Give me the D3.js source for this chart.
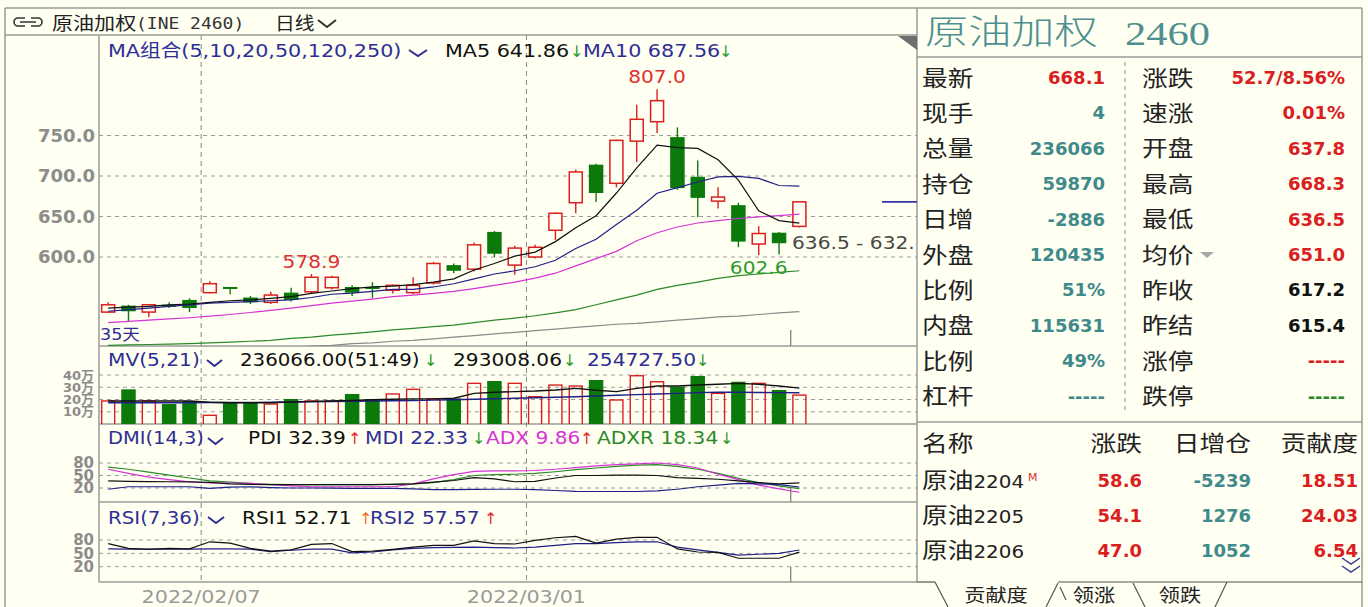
<!DOCTYPE html>
<html><head><meta charset="utf-8">
<script src="https://cdn.jsdelivr.net/npm/d3@7"></script>
<style>html,body{margin:0;padding:0;background:#fffff2;} svg{display:block;}</style>
</head><body><svg id="c" width="1368" height="607"></svg>
<script>
// ---------------- DATA ----------------
const dates = ['2022-01-24','2022-01-25','2022-01-26','2022-01-27','2022-01-28','2022-02-07','2022-02-08','2022-02-09','2022-02-10','2022-02-11','2022-02-14','2022-02-15','2022-02-16','2022-02-17','2022-02-18','2022-02-21','2022-02-22','2022-02-23','2022-02-24','2022-02-25','2022-02-28','2022-03-01','2022-03-02','2022-03-03','2022-03-04','2022-03-07','2022-03-08','2022-03-09','2022-03-10','2022-03-11','2022-03-14','2022-03-15','2022-03-16','2022-03-17','2022-03-18'];
const open  = [532,540,532,541,547,556,563,550,544,556,557,562,563,563,559,556,568,590,585,631,590,600,633,667,714,691,743,767,748,699,669,664,616,630,637.8];
const high  = [544,541,542,544,549,570,563,552,557,562,578.9,577,565,569,566,575,594,592,618,632,614,615,655,708,715,745,788,807,760,719,686,667,638,631,668.3];
const low   = [531,521,526,537,532,555,554,542,542,545,555,560,552,549,555,554,566,580,582,600,578,598,621,654,668,686,717,753,683,649,660,612,602.6,603,636.5];
const close = [541,533,541,540,537,567,561,544,553,547,575,575,556,561,565,565,592,583,615,604,611,612,654,705,679,744,770,793,685,673,674,619,629,617,668.1];
const ma5   = [537,538,539,541,542,544,546,547,549,551,555,558,561,563,564,566,569,573,584,592,601,606,619,636,651,679,710,738,735,734,720,695,657,645,641.86];
const ma10  = [533,535,537,539,541,543,544,545,546,547,550,554,555.5,557.6,560,560,563,567,573,579,583,588,596,610.6,622,640,657.7,678.7,685.7,692.6,698.9,699.6,697.1,688.3,687.56];
const ma20  = [519,520.5,522,523.5,525,527,529,531.5,534,537,540,543,545.5,548,551,553,555,557.5,561,565,569,574,580,589,598,607,620,630,637,642,645,647.5,649.5,651,653];
const ma50  = [491,491.5,492,492.5,493,494,495,496,497,499.5,501,503.5,505.5,507.5,510,512,514,516,519,522,524.5,527.5,531,535,541,547,553,560,565,569,573.5,577,579,581,583];
const ma120 = [472,474,476,478,480,481,483,485,487,488,490,491,493,494,496,497,499,501,503,505,507,509,511,513,515,517,518,520,522,524,526,527,529,531,532.5];
const volume = [188000,283000,188000,163000,188000,71000,174000,174000,163000,204000,188000,188000,245000,204000,245000,283000,204000,210000,332000,351000,332000,223000,318000,310000,359000,196000,394000,345000,305000,392000,250000,345000,332000,278000,236066];
const mv5   = [188000,188000,188000,188000,188000,178000,174000,174000,174000,180000,185000,188000,192000,198000,202000,205000,205000,210000,250000,259000,264000,269000,278000,291000,275000,264000,291000,310000,310000,318000,324000,332000,324000,310000,293008];
const mv21  = [174000,174000,174000,174000,174000,176000,176000,176000,178000,180000,182000,184000,186000,188000,190000,192000,195000,198000,202000,206000,210000,214000,218000,222000,228000,235000,240000,245000,250000,256000,259000,259000,257000,256000,254727.5];
const pdi   = [37,36,35.5,35,34.5,33.5,30,28.5,28,28,28,28,28,28,28.5,30,34,38,45,42,35,36,44,50,50,51,51,50,45,43,41,37,33,30,32.39];
const mdi   = [17,23,23,23,23,19,22,23,21,20,20,19.5,19,19,19,18,16,16,16.5,17,17,16,14,12,11.6,11.6,11.6,13,17,23,27,31,30,28,22.33];
const adx   = [65,55,46,40,35,32,32,31,28,25,23,23,23,23,23,30,42,52,60,61,61,62,65,69,73,76,78,80,76,68,53,40,27,18,9.86];
const adxr  = [70,65,58,51,44,37,34,31,29,28,28,28,28,28,29,30,33,40,50,52,53,55,59,64,68,72,75,76,72,65,55,43,33,25,18.34];
const rsi1  = [72,61,59,61,60,76,73,61,55,58,70,72,54,55,59,64,68,68,78,72,71,79,85,88,73,82,86,86,60,53,52,39,39,39,52.71];
const rsi2  = [60,59.5,59.5,59.5,59.5,60,60,59.5,54,57,59.5,59.5,51,53,58,61,63,63.5,64,63,62,64,68,72,72,74,76,76,64,58,52,46,48,50,57.57];
const priceTicks = [600,650,700,750];
const volTicks = [100000,200000,300000,400000];
const oscTicks = [20,50,80];
const dateTicks = ['2022-02-07','2022-03-01'];
const leftLabels  = ['最新','现手','总量','持仓','日增','外盘','比例','内盘','比例','杠杆'];
const leftValues  = ['668.1','4','236066','59870','-2886','120435','51%','115631','49%','-----'];
const rightLabels = ['涨跌','速涨','开盘','最高','最低','均价','昨收','昨结','涨停','跌停'];
const rightValues = ['52.7/8.56%','0.01%','637.8','668.3','636.5','651.0','617.2','615.4','-----','-----'];
const tblHead = ['名称','涨跌','日增仓','贡献度'];
const tblName = ['原油2204','原油2205','原油2206'];
const tblChg  = ['58.6','54.1','47.0'];
const tblOi   = ['-5239','1276','1052'];
const tblCon  = ['18.51','24.03','6.54'];

// ---------------- SETUP ----------------
const svg = d3.select('#c');
const BG = '#fffff2', BORDER = '#9a9a9a', GRID = '#9c9c9c';
const RED = '#d9201f', GREEN = '#0b7a0b', NAVY = '#2e2e96', TEAL = '#3f8a8a';
const FF = "'DejaVu Sans','Noto Sans CJK SC',sans-serif";
const CJK = "'Noto Sans CJK SC','DejaVu Sans',sans-serif";
svg.append('rect').attr('width',1368).attr('height',607).attr('fill',BG);

function T(p, x, y, s, o = {}) {
  return p.append('text')
    .attr('transform', `translate(${x},${y}) scale(${o.sx ?? 1},1)`)
    .attr('font-family', o.ff || FF).attr('font-size', o.fs || 18)
    .attr('font-weight', o.fw || 'normal').attr('fill', o.fill || '#111')
    .attr('text-anchor', o.anchor || 'start').text(s);
}
function L(p, x1, y1, x2, y2, col, w, dash) {
  const l = p.append('line').attr('x1',x1).attr('y1',y1).attr('x2',x2).attr('y2',y2)
    .attr('stroke', col).attr('stroke-width', w || 1);
  if (dash) l.attr('stroke-dasharray', dash);
  return l;
}
function V(p, x, y, w) { // chevron
  p.append('path').attr('d', `M${x},${y} L${x + w/2},${y + 6} L${x + w},${y}`)
    .attr('fill','none').attr('stroke', NAVY).attr('stroke-width', 2);
}

const PL = 99, PR = 917;
const panels = {C:[35,346], V:[346,424], D:[424,502], R:[502,582]};
const defs = svg.append('defs');
Object.entries(panels).forEach(([k,[a,b]]) => {
  defs.append('clipPath').attr('id','clip'+k).append('rect')
    .attr('x',PL).attr('y',a).attr('width',PR-PL).attr('height',b-a);
});

const xS = d3.scaleBand().domain(dates).range([98, 98 + 35*20.33]);
const bw = xS.bandwidth();
const cx = d => xS(d) + bw/2;
const bodyW = 14.5;
const yP = d3.scaleLinear().domain([600,750]).range([257,135.5]);
const yV = d3.scaleLinear().domain([0,400000]).range([424,375]);
const yD = d3.scaleLinear().domain([20,80]).range([488,463]);
const yR = d3.scaleLinear().domain([20,80]).range([566.7,540]);

// ---------------- FRAME ----------------
const frame = svg.append('g');
L(frame, 5, 8, 1362, 8, BORDER, 1.5);
L(frame, 5, 8, 5, 607, BORDER, 1.5);
L(frame, 5, 35, PR, 35, BORDER, 1.5);
L(frame, PL, 35, PL, 582, BORDER, 1.5);
L(frame, PR, 8, PR, 582, BORDER, 1.5);
L(frame, 1362, 8, 1362, 607, BORDER, 1.5);
[346,424,502,582].forEach(y => L(frame, PL, y, PR, y, BORDER, 1.5));

// grid lines
const grid = svg.append('g');
priceTicks.forEach(v => L(grid, PL, yP(v), PR, yP(v), GRID, 1, '4,4'));
volTicks.forEach(v => L(grid, PL, yV(v), PR, yV(v), GRID, 1, '4,4'));
oscTicks.forEach(v => L(grid, PL, yD(v), PR, yD(v), GRID, 1, '4,4'));
oscTicks.forEach(v => L(grid, PL, yR(v), PR, yR(v), GRID, 1, '4,4'));
dateTicks.forEach(d => L(grid, xS(d)+1.5, 35, xS(d)+1.5, 582, '#888', 1, '5,4'));

// axes
function styleAxis(g, fs) {
  g.select('.domain').remove();
  g.selectAll('.tick line').remove();
  g.attr('font-family', FF).attr('font-size', fs).attr('font-weight','bold').attr('color','#8c8c8c');
}
svg.append('g').attr('transform','translate(95,0)')
  .call(d3.axisLeft(yP).tickValues(priceTicks).tickFormat(d3.format('.1f')).tickSize(0).tickPadding(0))
  .call(g => styleAxis(g, 18));
svg.append('g').attr('transform','translate(94,0)')
  .call(d3.axisLeft(yV).tickValues(volTicks).tickFormat(v => (v/10000) + '万').tickSize(0).tickPadding(0))
  .call(g => styleAxis(g, 13));
svg.append('g').attr('transform','translate(94,0)')
  .call(d3.axisLeft(yD).tickValues(oscTicks).tickSize(0).tickPadding(0))
  .call(g => styleAxis(g, 15));
svg.append('g').attr('transform','translate(94,0)')
  .call(d3.axisLeft(yR).tickValues(oscTicks).tickSize(0).tickPadding(0))
  .call(g => styleAxis(g, 15));
const xAx = svg.append('g').attr('transform',`translate(${1.5 - bw/2},582)`)
  .call(d3.axisBottom(xS).tickValues(dateTicks).tickFormat(d => d.replace(/-/g,'/')).tickSize(0).tickPadding(0));
xAx.select('.domain').remove();
xAx.attr('font-family', FF).attr('font-size', 18).attr('color','#9a9a9a');
xAx.selectAll('.tick text').attr('dy', null).attr('y', 21.5).attr('transform','scale(1.15,1)');

// ---------------- CANDLES ----------------
const gC = svg.append('g').attr('clip-path','url(#clipC)');
dates.forEach((d,i) => {
  const up = close[i] >= open[i], x = cx(d);
  const yt = yP(Math.max(open[i],close[i])), yb = yP(Math.min(open[i],close[i]));
  const col = up ? RED : GREEN;
  if (up) {
    L(gC, x, yP(high[i]), x, yt, col, 1.4);
    L(gC, x, yb, x, yP(low[i]), col, 1.4);
    gC.append('rect').attr('x', x-bodyW/2+0.75).attr('y', yt).attr('width', bodyW-1.5)
      .attr('height', Math.max(yb-yt, 1)).attr('fill', BG).attr('stroke', col).attr('stroke-width', 1.5);
  } else {
    L(gC, x, yP(high[i]), x, yP(low[i]), col, 1.4);
    gC.append('rect').attr('x', x-bodyW/2).attr('y', yt).attr('width', bodyW)
      .attr('height', Math.max(yb-yt, 2)).attr('fill', col);
  }
});
const mkLine = ys => d3.line().x((v,i) => cx(dates[i])).y(v => ys(v));
[[ma120,'#8a8a8a'],[ma50,'#2a8a2a'],[ma20,'#d633d6'],[ma10,'#1f1f86'],[ma5,'#111']].forEach(([a,c]) =>
  gC.append('path').attr('d', mkLine(yP)(a)).attr('fill','none').attr('stroke', c).attr('stroke-width', 1.2));
L(gC, 882, yP(close[34]), PR, yP(close[34]), '#3434a8', 1.6);
T(gC, cx(dates[27]), yP(high[27]) - 6, '807.0', {fill:'#e03030', anchor:'middle', sx:1.12});
T(gC, cx(dates[10]), yP(high[10]) - 6, '578.9', {fill:'#e03030', anchor:'middle', sx:1.12});
T(gC, cx(dates[32]), yP(low[32]) + 19, '602.6', {fill:'#2e9a2e', anchor:'middle', sx:1.12});
T(gC, 792, 249, '636.5 - 632.', {fill:'#484848', sx:1.12});
T(gC, 100, 340, '35天', {fill:NAVY, fs:16, sx:1.1});
svg.append('path').attr('d', `M898,36 L${PR},36 L${PR},50 Z`).attr('fill','#6e6e6e');

// ---------------- VOLUME ----------------
const gV = svg.append('g').attr('clip-path','url(#clipV)');
dates.forEach((d,i) => {
  const up = close[i] >= open[i], x = cx(d);
  const yt = yV(volume[i]), yb = yV(0);
  if (up) gV.append('rect').attr('x', x-bodyW/2+0.75).attr('y', yt).attr('width', bodyW-1.5)
      .attr('height', yb-yt+2).attr('fill','none').attr('stroke', RED).attr('stroke-width', 1.4);
  else gV.append('rect').attr('x', x-bodyW/2).attr('y', yt).attr('width', bodyW)
      .attr('height', yb-yt).attr('fill', GREEN);
});
gV.append('path').attr('d', mkLine(yV)(mv21)).attr('fill','none').attr('stroke','#1f1f86').attr('stroke-width',1.4);
gV.append('path').attr('d', mkLine(yV)(mv5)).attr('fill','none').attr('stroke','#111').attr('stroke-width',1.4);

// ---------------- DMI ----------------
const gD = svg.append('g').attr('clip-path','url(#clipD)');
[[adxr,'#2a8a2a'],[adx,'#d633d6'],[pdi,'#111'],[mdi,'#1f1f86']].forEach(([a,c]) =>
  gD.append('path').attr('d', mkLine(yD)(a)).attr('fill','none').attr('stroke', c).attr('stroke-width', 1.2));

// ---------------- RSI ----------------
const gR = svg.append('g').attr('clip-path','url(#clipR)');
[[rsi2,'#1f1f86'],[rsi1,'#111']].forEach(([a,c]) =>
  gR.append('path').attr('d', mkLine(yR)(a)).attr('fill','none').attr('stroke', c).attr('stroke-width', 1.2));

const tx = xS(dates[34]) + 1.5;
L(svg, tx, 330, tx, 346, '#777', 1.2);
L(svg, tx, 488, tx, 502, '#777', 1.2);
L(svg, tx, 567, tx, 582, '#777', 1.2);

// ---------------- PANEL HEADERS ----------------
const hd = svg.append('g');
const SX = 1.15;
T(hd, 108, 56.5, 'MA组合(5,10,20,50,120,250)', {fill:NAVY, sx:SX});
V(hd, 409, 50, 18);
T(hd, 445, 56.5, 'MA5 641.86', {fill:'#111', sx:SX});
T(hd, 570, 56.5, '↓', {fill:'#2e9a2e', fs:16});
T(hd, 583, 56.5, 'MA10 687.56', {fill:NAVY, sx:SX});
T(hd, 719, 56.5, '↓', {fill:'#2e9a2e', fs:16});
T(hd, 108, 366, 'MV(5,21)', {fill:NAVY, sx:1.12});
V(hd, 207, 360, 15);
T(hd, 240, 366, '236066.00(51:49)', {fill:'#111', sx:1.1});
T(hd, 424, 366, '↓', {fill:'#2e9a2e', fs:16});
T(hd, 453, 366, '293008.06', {fill:'#111', sx:1.12});
T(hd, 563, 366, '↓', {fill:'#2e9a2e', fs:16});
T(hd, 587, 366, '254727.50', {fill:NAVY, sx:1.12});
T(hd, 696, 366, '↓', {fill:'#2e9a2e', fs:16});
T(hd, 108, 444, 'DMI(14,3)', {fill:NAVY, sx:1.08});
V(hd, 208, 438, 15);
T(hd, 248, 444, 'PDI 32.39', {fill:'#111', sx:1.12});
T(hd, 348, 444, '↑', {fill:'#e03030', fs:16});
T(hd, 365, 444, 'MDI 22.33', {fill:NAVY, sx:1.12});
T(hd, 472, 444, '↓', {fill:'#2e9a2e', fs:16});
T(hd, 486, 444, 'ADX 9.86', {fill:'#d633d6', sx:1.12});
T(hd, 580, 444, '↑', {fill:'#e03030', fs:16});
T(hd, 597, 444, 'ADXR 18.34', {fill:'#2a8a2a', sx:1.12});
T(hd, 720, 444, '↓', {fill:'#2e9a2e', fs:16});
T(hd, 108, 524, 'RSI(7,36)', {fill:NAVY, sx:1.1});
V(hd, 208, 517, 16);
T(hd, 242, 524, 'RSI1 52.71', {fill:'#111', sx:1.12});
T(hd, 359, 524, '↑', {fill:'#f07030', fs:16});
T(hd, 370, 524, 'RSI2 57.57', {fill:NAVY, sx:1.12});
T(hd, 484, 524, '↑', {fill:'#e03030', fs:16});

const hdrTop = svg.append('g');
hdrTop.append('path').attr('d','M25,18 H18 a4,4 0 0 0 0,8 H25 M31,18 H38 a4,4 0 0 1 0,8 H31 M20,22 H36')
  .attr('fill','none').attr('stroke','#333').attr('stroke-width',1.6);
T(hdrTop, 52, 30, '原油加权', {ff:CJK, fs:18, sx:1.17, fill:'#222'});
T(hdrTop, 136, 29, '(INE 2460)', {ff:"'DejaVu Sans Mono',monospace", fs:15, sx:1.2, fill:'#333'});
T(hdrTop, 275, 30, '日线', {ff:CJK, fs:18, sx:1.1, fill:'#222'});
hdrTop.append('path').attr('d','M318,20 L327,27 L336,20').attr('fill','none').attr('stroke','#333').attr('stroke-width',2);

// ---------------- RIGHT PANEL ----------------
const rp = svg.append('g');
L(rp, PR, 57, 1362, 57, BORDER, 1.5);
T(rp, 925, 44, '原油加权', {ff:CJK, fs:34, sx:1.27, fill:'#4f8f8f', fw:300});
T(rp, 1125, 45, '2460', {ff:"'Liberation Serif','DejaVu Serif',serif", fs:34, sx:1.25, fill:'#4f8f8f'});
L(rp, 1125, 62, 1125, 412, '#8a8a8a', 1, '4,4');
const lCol = [RED].concat(Array(9).fill(TEAL));
const rCol = [RED,RED,RED,RED,RED,RED,'#111','#111',RED,'#2a8a2a'];
leftLabels.forEach((s,k) => {
  const c = 77.5 + 35.4*k;
  T(rp, 922, c + 8, s, {ff:CJK, fs:22, sx:1.17, fill:'#222'});
  T(rp, 1105, c + 6.5, leftValues[k], {fw:'bold', anchor:'end', fill:lCol[k]});
  T(rp, 1142, c + 8, rightLabels[k], {ff:CJK, fs:22, sx:1.17, fill:'#222'});
  T(rp, 1345, c + 6.5, rightValues[k], {fw:'bold', anchor:'end', fill:rCol[k]});
});
rp.append('path').attr('d','M1200,252 L1214,252 L1207,258 Z').attr('fill','#a8a8a8');
L(rp, PR, 422, 1362, 422, BORDER, 1.5);
T(rp, 922, 451, tblHead[0], {ff:CJK, fs:22, sx:1.17, fill:'#222'});
T(rp, 1142, 451, tblHead[1], {ff:CJK, fs:22, sx:1.17, fill:'#222', anchor:'end'});
T(rp, 1251, 451, tblHead[2], {ff:CJK, fs:22, sx:1.17, fill:'#222', anchor:'end'});
T(rp, 1358, 451, tblHead[3], {ff:CJK, fs:22, sx:1.17, fill:'#222', anchor:'end'});
tblName.forEach((s,k) => {
  const c = 480 + 35*k;
  const t = rp.append('text').attr('transform',`translate(922,${c+8}) scale(1.17,1)`)
    .attr('font-family', FF).attr('fill','#222');
  t.append('tspan').attr('font-family', CJK).attr('font-size',22).text(s.slice(0,2));
  t.append('tspan').attr('font-size',17).text(s.slice(2));
  T(rp, 1142, c + 6.5, tblChg[k], {fw:'bold', anchor:'end', fill:RED});
  T(rp, 1251, c + 6.5, tblOi[k], {fw:'bold', anchor:'end', fill:TEAL});
  T(rp, 1358, c + 6.5, tblCon[k], {fw:'bold', anchor:'end', fill:RED});
});
T(rp, 1028, 481, 'M', {fs:11, fill:'#e03030'});
rp.append('path').attr('d','M1342,558 L1351,564 L1360,558 M1342,566 L1351,572 L1360,566')
  .attr('fill','none').attr('stroke','#3a3aa0').attr('stroke-width',1.5);
L(rp, PR, 582, 935, 582, '#555', 1.2);
rp.append('path').attr('d','M935,582 L948,607 M1046,607 L1058,583 M1060,587 L1066,600 M1133,583 L1145,607 M1215,607 L1227,582')
  .attr('fill','none').attr('stroke','#555').attr('stroke-width',1.2);
L(rp, 1058, 582, 1362, 582, '#555', 1.2);
T(rp, 996, 602, '贡献度', {ff:CJK, fs:18, sx:1.18, anchor:'middle', fill:'#222'});
T(rp, 1094, 602, '领涨', {ff:CJK, fs:18, sx:1.18, anchor:'middle', fill:'#222'});
T(rp, 1180, 602, '领跌', {ff:CJK, fs:18, sx:1.18, anchor:'middle', fill:'#222'});
</script></body></html>
